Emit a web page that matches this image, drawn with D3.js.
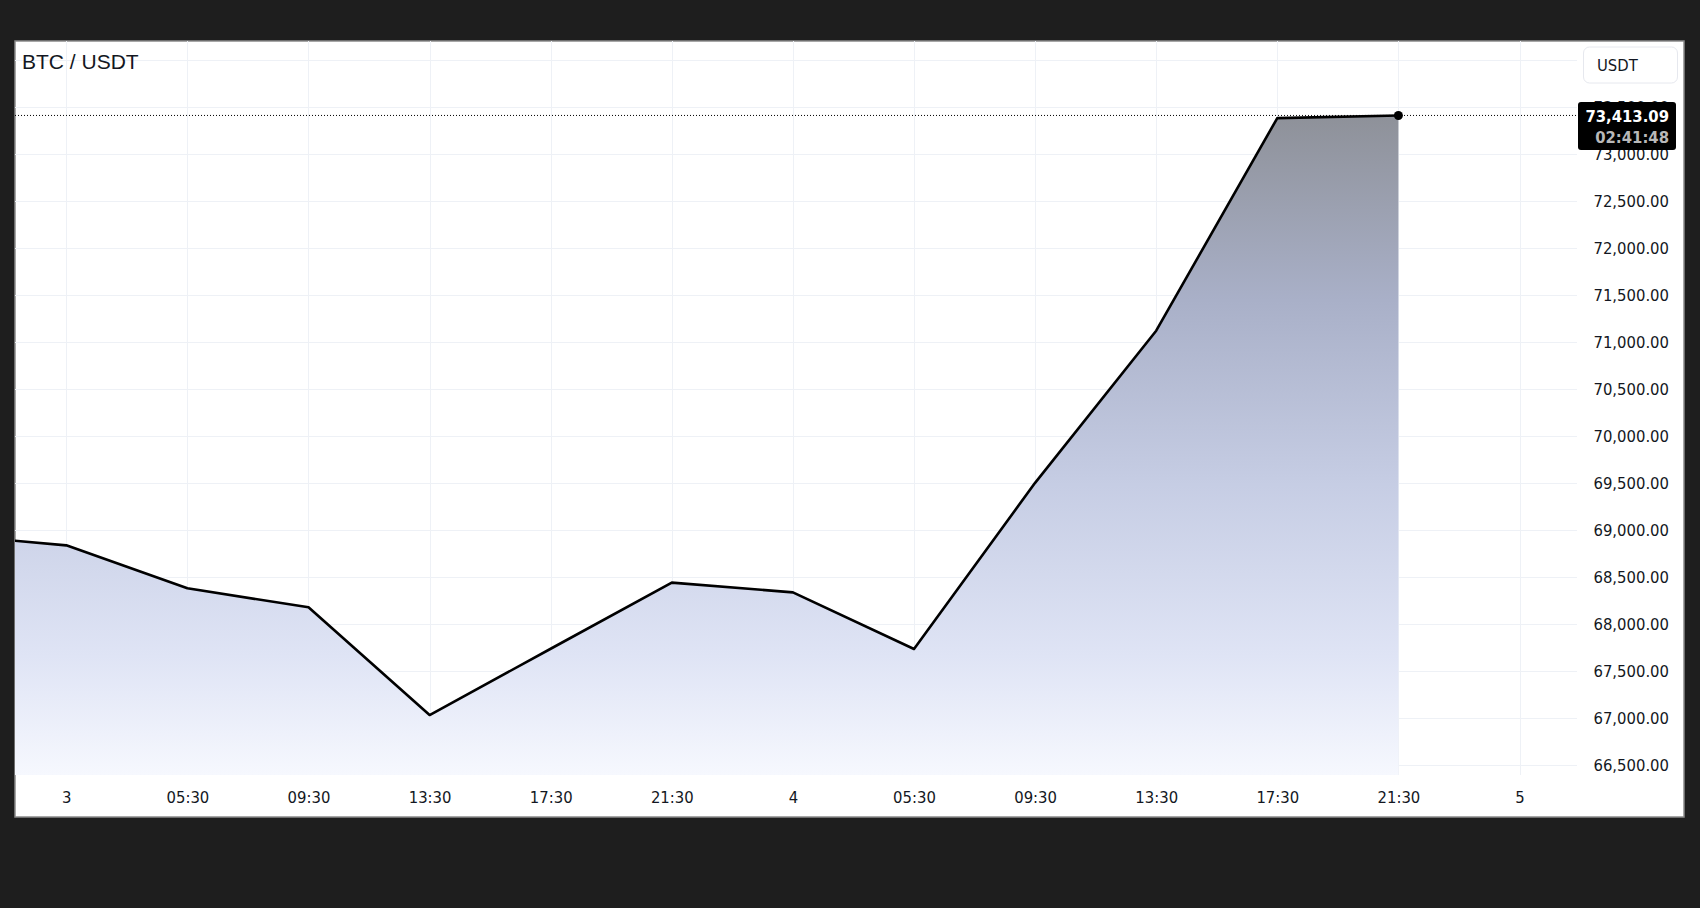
<!DOCTYPE html>
<html>
<head>
<meta charset="utf-8">
<script src="https://cdn.jsdelivr.net/npm/d3@7/dist/d3.min.js"></script>
<style>
  body { margin: 0; background: #1e1e1e; }
  .scale, .scale text { font-family: "DejaVu Sans Condensed", "DejaVu Sans", sans-serif; font-stretch: condensed; }
</style>
</head>
<body>
<svg id="chart" width="1700" height="908"></svg>
<script>
// 4h bars (local time), first one is partly off screen on the left
const barSlots = ["02 21:30", "03 01:30", "03 05:30", "03 09:30", "03 13:30", "03 17:30", "03 21:30",
                  "04 01:30", "04 05:30", "04 09:30", "04 13:30", "04 17:30", "04 21:30"];
const closes = [68956, 68840, 68383, 68181, 67035, 67740, 68443,
                68340, 67737, 69505, 71123, 73385, 73413.09];
// empty slot to the right of the last bar
const futureSlots = ["05 01:30"];

const timeTickSlots = ["03 01:30", "03 05:30", "03 09:30", "03 13:30", "03 17:30", "03 21:30",
                       "04 01:30", "04 05:30", "04 09:30", "04 13:30", "04 17:30", "04 21:30", "05 01:30"];
const timeTickLabels = ["3", "05:30", "09:30", "13:30", "17:30", "21:30",
                        "4", "05:30", "09:30", "13:30", "17:30", "21:30", "5"];
const priceTicks = [66500, 67000, 67500, 68000, 68500, 69000, 69500, 70000,
                    70500, 71000, 71500, 72000, 72500, 73000, 73500];
// top grid line sits under the currency button, no label there
const extraGrid = [74000];

const symbol = "BTC / USDT";
const currency = "USDT";
const countdown = "02:41:48";

const svg = d3.select("#chart");

const frame = { left: 15, top: 41, right: 1684, bottom: 817 };
const plot = { left: 15, top: 41, right: 1577, bottom: 775 };
const fmt = d3.format(",.2f");

// frame
svg.append("rect")
    .attr("x", frame.left).attr("y", frame.top)
    .attr("width", frame.right - frame.left).attr("height", frame.bottom - frame.top)
    .attr("fill", "#fff")
    .attr("stroke", "#8a8a8a").attr("stroke-width", 1.5);

// scales
const x = d3.scalePoint()
    .domain(barSlots.concat(futureSlots))
    .range([-54.8, 1519.5]);
const y = d3.scaleLinear()
    .domain([66397, 74205])
    .range([plot.bottom, plot.top]);

const data = barSlots.map((s, i) => ({ slot: s, close: closes[i] }));
const last = data[data.length - 1];

const defs = svg.append("defs");
defs.append("clipPath").attr("id", "plot-clip")
    .append("rect")
    .attr("x", plot.left).attr("y", plot.top)
    .attr("width", plot.right - plot.left).attr("height", plot.bottom - plot.top);

//Gradient under the line
const grad = defs.append("linearGradient")
    .attr("id", "area-gradient")
    .attr("gradientUnits", "userSpaceOnUse")
    .attr("x1", 0).attr("x2", 0)
    .attr("y1", y(d3.max(closes))).attr("y2", plot.bottom);
[["0%", "#8e9199"], ["28%", "#a9b0c8"], ["56%", "#c6cde4"], ["82%", "#dfe4f5"], ["100%", "#f6f8fe"]]
    .forEach(([o, c]) => grad.append("stop").attr("offset", o).attr("stop-color", c));

// grid
const grid = svg.append("g").attr("stroke", "#eef1f6").attr("stroke-width", 1);
grid.selectAll(".h").data(priceTicks.concat(extraGrid)).enter().append("line")
    .attr("x1", plot.left).attr("x2", plot.right)
    .attr("y1", d => Math.round(y(d)) + 0.5).attr("y2", d => Math.round(y(d)) + 0.5);
grid.selectAll(".v").data(timeTickSlots).enter().append("line")
    .attr("x1", d => Math.round(x(d)) + 0.5).attr("x2", d => Math.round(x(d)) + 0.5)
    .attr("y1", plot.top).attr("y2", plot.bottom);

const series = svg.append("g").attr("clip-path", "url(#plot-clip)");

series.append("path")
    .datum(data)
    .attr("fill", "url(#area-gradient)")
    .attr("d", d3.area().x(d => x(d.slot)).y0(plot.bottom).y1(d => y(d.close)));

series.append("path")
    .datum(data)
    .attr("fill", "none")
    .attr("stroke", "#000")
    .attr("stroke-width", 2.6)
    .attr("stroke-linejoin", "round")
    .attr("d", d3.line().x(d => x(d.slot)).y(d => y(d.close)));

// last price dotted line + dot
const boxLeft = 1578;
svg.append("line")
    .attr("x1", plot.left).attr("x2", boxLeft)
    .attr("y1", y(last.close)).attr("y2", y(last.close))
    .attr("stroke", "#000").attr("stroke-width", 1)
    .attr("stroke-dasharray", "1,2");
svg.append("circle")
    .attr("cx", x(last.slot)).attr("cy", y(last.close))
    .attr("r", 4.5).attr("fill", "#000");

// price scale
const yAxis = svg.append("g")
    .attr("class", "scale")
    .attr("transform", `translate(1669,0)`)
    .call(d3.axisLeft(y).tickValues(priceTicks).tickSize(0).tickPadding(0).tickFormat(fmt));
yAxis.select(".domain").remove();
yAxis.selectAll("text").attr("fill", "#131722").style("font-size", "16.5px");

// time scale
const xAxis = svg.append("g")
    .attr("class", "scale")
    .attr("transform", `translate(0,${plot.bottom})`)
    .call(d3.axisBottom(x).tickValues(timeTickSlots).tickSize(0).tickPadding(16)
        .tickFormat((d, i) => timeTickLabels[i]));
xAxis.select(".domain").remove();
xAxis.selectAll("text")
    .attr("fill", "#131722")
    .style("font-size", "16.5px");

// currency button
svg.append("rect")
    .attr("x", 1583.5).attr("y", 47).attr("width", 94).attr("height", 36).attr("rx", 6)
    .attr("fill", "#fff").attr("stroke", "#e6e8ee");
svg.append("text")
    .attr("class", "scale")
    .attr("x", 1597).attr("y", 65).attr("dy", "0.36em")
    .attr("fill", "#131722").style("font-size", "16.5px")
    .text(currency);

// last price label
const ly = y(last.close);
svg.append("rect")
    .attr("x", boxLeft).attr("y", ly - 13.5)
    .attr("width", 98).attr("height", 48).attr("rx", 3)
    .attr("fill", "#000");
svg.append("text")
    .attr("class", "scale")
    .attr("x", 1669).attr("y", ly + 1).attr("dy", "0.36em")
    .attr("text-anchor", "end").attr("fill", "#fff")
    .style("font-size", "16.5px").style("font-weight", "bold")
    .text(fmt(last.close));
svg.append("text")
    .attr("class", "scale")
    .attr("x", 1669).attr("y", ly + 22).attr("dy", "0.36em")
    .attr("text-anchor", "end").attr("fill", "#b8b8b8")
    .style("font-size", "16.5px").style("font-weight", "bold")
    .text(countdown);

// symbol title
svg.append("text")
    .attr("x", 22).attr("y", 61).attr("dy", "0.36em")
    .attr("fill", "#131722")
    .style("font-family", "'Liberation Sans', Arial, sans-serif")
    .style("font-size", "21px")
    .text(symbol);
</script>
</body>
</html>
